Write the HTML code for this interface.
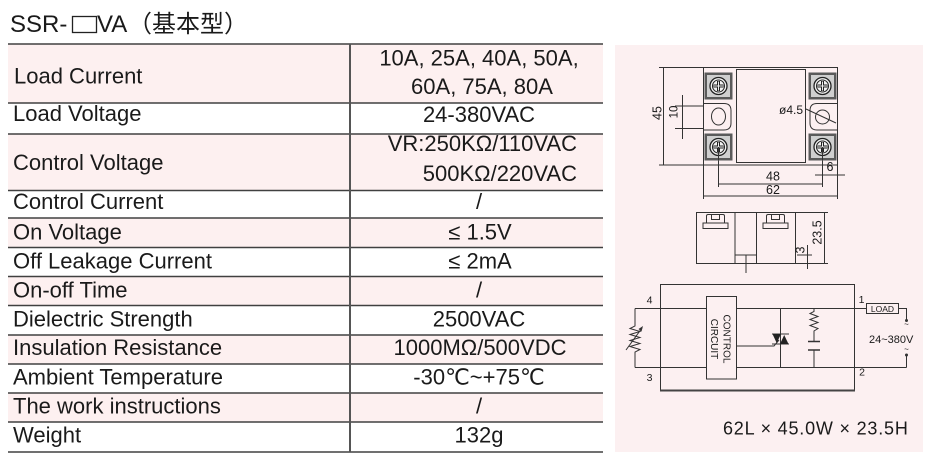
<!DOCTYPE html>
<html>
<head>
<meta charset="utf-8">
<style>
  html,body{margin:0;padding:0;background:#fff;}
  body{width:925px;height:467px;overflow:hidden;position:relative;}
  svg{position:absolute;left:0;top:0;}
  .t{font-family:"Liberation Sans","DejaVu Sans",sans-serif;fill:#1a1a1a;}
  .cjk{font-family:"Liberation Sans","Noto Sans CJK SC",sans-serif;fill:#1a1a1a;}
</style>
</head>
<body>
<svg width="925" height="467" viewBox="0 0 925 467" xmlns="http://www.w3.org/2000/svg">
  <!-- Title -->
  <text class="t" x="10" y="32" font-size="24">SSR-</text>
  <rect x="72.5" y="16.5" width="24" height="16" fill="none" stroke="#222" stroke-width="1.3"/>
  <text class="t" x="97" y="32" font-size="24">VA</text>
  <text class="cjk" x="128" y="32" font-size="24">（基本型）</text>

  <!-- Table row fills -->
  <g fill="#fdf0f0">
    <rect x="8" y="44" width="595" height="59"/>
    <rect x="8" y="134" width="595" height="56.5"/>
    <rect x="8" y="218" width="595" height="29.5"/>
    <rect x="8" y="276.5" width="595" height="29"/>
    <rect x="8" y="335" width="595" height="29"/>
    <rect x="8" y="393" width="595" height="29"/>
  </g>
  <!-- Table lines -->
  <g stroke="#404040" stroke-width="1.5">
    <line x1="8" y1="44" x2="603" y2="44"/>
    <line x1="8" y1="103" x2="603" y2="103"/>
    <line x1="8" y1="134" x2="603" y2="134"/>
    <line x1="8" y1="190.5" x2="603" y2="190.5"/>
    <line x1="8" y1="218" x2="603" y2="218"/>
    <line x1="8" y1="247.5" x2="603" y2="247.5"/>
    <line x1="8" y1="276.5" x2="603" y2="276.5"/>
    <line x1="8" y1="305.5" x2="603" y2="305.5"/>
    <line x1="8" y1="335" x2="603" y2="335"/>
    <line x1="8" y1="364" x2="603" y2="364"/>
    <line x1="8" y1="393" x2="603" y2="393"/>
    <line x1="8" y1="422" x2="603" y2="422"/>
    <line x1="8" y1="452" x2="603" y2="452"/>
  </g>
  <line x1="350" y1="44" x2="350" y2="452" stroke="#555" stroke-width="2"/>

  <!-- Labels -->
  <g class="t" font-size="22">
    <text x="14" y="83.5">Load Current</text>
    <text x="13" y="121">Load Voltage</text>
    <text x="13" y="170">Control Voltage</text>
    <text x="13" y="209">Control Current</text>
    <text x="13" y="239.5">On Voltage</text>
    <text x="13" y="268.5">Off Leakage Current</text>
    <text x="13" y="297.5">On-off Time</text>
    <text x="13" y="326.5">Dielectric Strength</text>
    <text x="13" y="355">Insulation Resistance</text>
    <text x="13" y="384.5">Ambient Temperature</text>
    <text x="13" y="413.5">The work instructions</text>
    <text x="13" y="442.5">Weight</text>
  </g>
  <!-- Values -->
  <g class="t" font-size="22" text-anchor="middle">
    <text x="479" y="65.5">10A, 25A, 40A, 50A,</text>
    <text x="482" y="94">60A, 75A, 80A</text>
    <text x="479" y="122">24-380VAC</text>
    <text x="577" y="151" text-anchor="end">VR:250KΩ/110VAC</text>
    <text x="577" y="181" text-anchor="end">500KΩ/220VAC</text>
    <text x="479" y="209">/</text>
    <text x="480" y="239.5">≤ 1.5V</text>
    <text x="480" y="268.5">≤ 2mA</text>
    <text x="479" y="297.5">/</text>
    <text x="479" y="326.5">2500VAC</text>
    <text x="480" y="355">1000MΩ/500VDC</text>
    <text x="479" y="384.5">-30℃~+75℃</text>
    <text x="479" y="413.5">/</text>
    <text x="479" y="442.5">132g</text>
  </g>

  <!-- Right panel -->
  <rect x="615" y="45" width="308" height="407" fill="#fcf0f1"/>

  <!-- Top view -->
  <g stroke="#333" stroke-width="1" fill="none">
    <rect x="703.5" y="67.5" width="134" height="97.5"/>
    <rect x="736.5" y="69.5" width="69" height="93"/>
    <!-- slots -->
    <path d="M703.5,103.5 H724 Q731,103.5 731,110.5 V123 Q731,130 724,130 H703.5"/>
    <ellipse cx="718.5" cy="116.5" rx="7" ry="8.5"/>
    <path d="M837.5,103.5 H817 Q810,103.5 810,110.5 V123 Q810,130 817,130 H837.5"/>
    <circle cx="822.5" cy="117" r="7"/>
    <line x1="806" y1="109" x2="836" y2="123"/>
    <!-- dim 45 -->
    <line x1="663.5" y1="67" x2="663.5" y2="165"/>
    <line x1="659" y1="67.5" x2="703" y2="67.5"/>
    <line x1="659" y1="165" x2="703" y2="165"/>
    <!-- dim 10 -->
    <line x1="682.5" y1="95" x2="682.5" y2="139"/>
    <line x1="675" y1="106" x2="703" y2="106"/>
    <line x1="675" y1="128.5" x2="703" y2="128.5"/>
    <!-- dim 48 -->
    <line x1="718.5" y1="147" x2="718.5" y2="187"/>
    <line x1="822.5" y1="147" x2="822.5" y2="187"/>
    <line x1="718.5" y1="184" x2="822.5" y2="184"/>
    <!-- dim 62 -->
    <line x1="703.5" y1="165" x2="703.5" y2="199"/>
    <line x1="837.5" y1="165" x2="837.5" y2="199"/>
    <line x1="703.5" y1="196" x2="837.5" y2="196"/>
    <!-- dim 6 -->
    <line x1="815" y1="175" x2="845" y2="175"/>
  </g>
  <!-- Terminals -->
  <g>
    <g transform="translate(718.5,86)">
      <rect x="-14" y="-13.5" width="28" height="27" fill="#5a5a5a"/>
      <rect x="-11.5" y="-11" width="23" height="22" fill="#cfcfcf"/>
      <circle r="8.5" fill="#f2f2f2" stroke="#222" stroke-width="1.3"/>
      <circle r="6" fill="none" stroke="#222"/>
      <path d="M-5,0 H5 M0,-5 V5" stroke="#222" stroke-width="3"/>
      <path d="M-4.5,0 H4.5 M0,-4.5 V4.5" stroke="#eee" stroke-width="1"/>
    </g>
    <g transform="translate(822.5,86)">
      <rect x="-14" y="-13.5" width="28" height="27" fill="#5a5a5a"/>
      <rect x="-11.5" y="-11" width="23" height="22" fill="#cfcfcf"/>
      <circle r="8.5" fill="#f2f2f2" stroke="#222" stroke-width="1.3"/>
      <circle r="6" fill="none" stroke="#222"/>
      <path d="M-5,0 H5 M0,-5 V5" stroke="#222" stroke-width="3"/>
      <path d="M-4.5,0 H4.5 M0,-4.5 V4.5" stroke="#eee" stroke-width="1"/>
    </g>
    <g transform="translate(718.5,147)">
      <rect x="-14" y="-13.5" width="28" height="27" fill="#5a5a5a"/>
      <rect x="-11.5" y="-11" width="23" height="22" fill="#cfcfcf"/>
      <circle r="8.5" fill="#f2f2f2" stroke="#222" stroke-width="1.3"/>
      <circle r="6" fill="none" stroke="#222"/>
      <path d="M-5,0 H5 M0,-5 V5" stroke="#222" stroke-width="3"/>
      <path d="M-4.5,0 H4.5 M0,-4.5 V4.5" stroke="#eee" stroke-width="1"/>
    </g>
    <g transform="translate(822.5,147)">
      <rect x="-14" y="-13.5" width="28" height="27" fill="#5a5a5a"/>
      <rect x="-11.5" y="-11" width="23" height="22" fill="#cfcfcf"/>
      <circle r="8.5" fill="#f2f2f2" stroke="#222" stroke-width="1.3"/>
      <circle r="6" fill="none" stroke="#222"/>
      <path d="M-5,0 H5 M0,-5 V5" stroke="#222" stroke-width="3"/>
      <path d="M-4.5,0 H4.5 M0,-4.5 V4.5" stroke="#eee" stroke-width="1"/>
    </g>
    <line x1="718.5" y1="147" x2="718.5" y2="160" stroke="#333"/>
    <line x1="822.5" y1="147" x2="822.5" y2="160" stroke="#333"/>
  </g>
  <g class="t" font-size="12.5">
    <text x="779" y="114" font-size="12">ø4.5</text>
    <text transform="translate(661.5,113) rotate(-90)" text-anchor="middle">45</text>
    <text transform="translate(677.5,112) rotate(-90)" text-anchor="middle" font-size="11.5">10</text>
    <text x="773" y="180.5" text-anchor="middle">48</text>
    <text x="773" y="194" text-anchor="middle">62</text>
    <text x="830" y="171" text-anchor="middle">6</text>
  </g>

  <!-- Side view -->
  <g stroke="#333" stroke-width="1" fill="none">
    <rect x="696.5" y="212.5" width="99" height="51"/>
    <line x1="735" y1="212.5" x2="735" y2="263.5"/>
    <line x1="756.5" y1="212.5" x2="756.5" y2="263.5"/>
    <line x1="735" y1="255" x2="756.5" y2="255"/>
    <line x1="746" y1="255" x2="746" y2="273"/>
    <!-- screw heads -->
    <rect x="703" y="223" width="25" height="5.5"/>
    <path d="M706.5,223 V216 Q706.5,214.5 708,214.5 H723 Q724.5,214.5 724.5,216 V223"/>
    <path d="M711.5,214.5 V219.5 H719.5 V214.5"/>
    <rect x="763" y="223" width="25" height="5.5"/>
    <path d="M766.5,223 V216 Q766.5,214.5 768,214.5 H783 Q784.5,214.5 784.5,216 V223"/>
    <path d="M771.5,214.5 V219.5 H779.5 V214.5"/>
    <!-- dim 23.5 -->
    <line x1="796" y1="212.5" x2="828" y2="212.5"/>
    <line x1="796" y1="263.5" x2="828" y2="263.5"/>
    <line x1="824.5" y1="212" x2="824.5" y2="264"/>
    <!-- dim 3 -->
    <line x1="807.5" y1="245" x2="807.5" y2="269"/>
    <line x1="797" y1="255" x2="812" y2="255"/>
  </g>
  <g class="t" font-size="12.5">
    <text transform="translate(821.5,232.5) rotate(-90)" text-anchor="middle">23.5</text>
    <text transform="translate(804.5,250) rotate(-90)" text-anchor="middle">3</text>
  </g>

  <!-- Circuit -->
  <g stroke="#333" stroke-width="1" fill="none">
    <path d="M660.5,390.5 V284.5 H854.5 V390.5"/>
    <line x1="660" y1="390.5" x2="855" y2="390.5" stroke="#444" stroke-width="2"/>
    <rect x="706.5" y="296.5" width="30" height="82.5"/>
    <line x1="635" y1="308.5" x2="706.5" y2="308.5"/>
    <line x1="736.5" y1="308.5" x2="866.5" y2="308.5"/>
    <line x1="635" y1="367.5" x2="706.5" y2="367.5"/>
    <line x1="736.5" y1="367.5" x2="906.5" y2="367.5"/>
    <!-- variable resistor -->
    <polyline points="635,308.5 635,326 630,328.5 640,331.5 630,334.5 640,337.5 630,340.5 640,343.5 630,346.5 640,349.5 635,352 635,367.5"/>
    <line x1="626" y1="350" x2="642" y2="328"/>
    <!-- triac -->
    <line x1="780.5" y1="308.5" x2="780.5" y2="367.5"/>
    <line x1="772" y1="334" x2="789" y2="334"/>
    <line x1="772" y1="344" x2="789" y2="344"/>
    <polyline points="736.5,346 774,346 779,340"/>
    <!-- snubber -->
    <polyline points="814,308.5 814,311.5 810,313.5 818,316.5 810,319.5 818,322.5 810,325.5 818,328.5 814,331 814,341.5"/>
    <line x1="808" y1="341.5" x2="820" y2="341.5" stroke-width="1.5"/>
    <line x1="808" y1="350" x2="820" y2="350" stroke-width="1.5"/>
    <line x1="814" y1="350" x2="814" y2="367.5"/>
    <!-- load -->
    <rect x="866.5" y="303.5" width="32" height="10"/>
    <polyline points="898.5,308.5 906.5,308.5 906.5,320"/>
    <line x1="906.5" y1="355" x2="906.5" y2="367.5"/>
  </g>
  <polygon points="643,326 638.5,329 641.5,331.5" fill="#333"/>
  <polygon points="772.5,334 781,334 776.7,343" fill="#222"/>
  <polygon points="780,344 788.5,344 784.2,335" fill="#222"/>
  <circle cx="906.5" cy="320.5" r="1.5" fill="#333"/>
  <circle cx="906.5" cy="355" r="1.5" fill="#333"/>
  <g class="t">
    <text x="882.5" y="311.8" font-size="8.5" text-anchor="middle">LOAD</text>
    <text x="906.5" y="327" font-size="8" text-anchor="middle">~</text>
    <text x="906.5" y="352" font-size="8" text-anchor="middle">~</text>
    <text x="869" y="343" font-size="11">24~380V</text>
    <text x="649.5" y="303.5" font-size="10.5" text-anchor="middle">4</text>
    <text x="649.5" y="381" font-size="10.5" text-anchor="middle">3</text>
    <text x="861.5" y="303" font-size="10.5" text-anchor="middle">1</text>
    <text x="862" y="375.5" font-size="10.5" text-anchor="middle">2</text>
    <text transform="translate(723.5,339) rotate(90)" font-size="10" text-anchor="middle">CONTROL</text>
    <text transform="translate(711,339) rotate(90)" font-size="10" text-anchor="middle">CIRCUIT</text>
  </g>

  <!-- Bottom size text -->
  <text class="t" x="723" y="434.5" font-size="18" letter-spacing="0.8">62L × 45.0W × 23.5H</text>
</svg>
</body>
</html>
